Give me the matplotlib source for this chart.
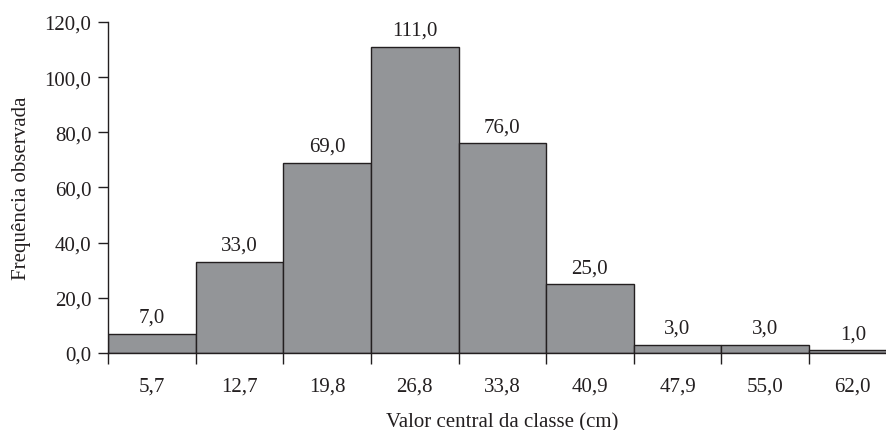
import matplotlib.pyplot as plt
import numpy as np

plt.rcParams['font.family'] = ['Liberation Serif', 'DejaVu Serif']

# class centers (cm) and observed frequencies
centers = ['5,7', '12,7', '19,8', '26,8', '33,8', '40,9', '47,9', '55,0', '62,0']
freqs = [7.0, 33.0, 69.0, 111.0, 76.0, 25.0, 3.0, 3.0, 1.0]
y_ticks = [0, 20, 40, 60, 80, 100, 120]


def comma(v):
    return f'{v:.1f}'.replace('.', ',')


fig = plt.figure(figsize=(8.87, 4.31), dpi=100)
# last bar runs past the right edge of the picture, as in the original
ax = fig.add_axes([0.1218, 0.1787, 0.889, 0.7679])

pos = np.arange(len(freqs))
bars = ax.bar(pos, freqs, width=1.0, color='#939598', edgecolor='#231f20',
              linewidth=1.0)
ax.bar_label(bars, labels=[comma(v) for v in freqs], padding=5, fontsize=15,
             color='#231f20')

ax.set_xlim(-0.5, len(freqs) - 0.5)
ax.set_ylim(0, 120)
ax.set_yticks(y_ticks)
ax.set_yticklabels([comma(v) for v in y_ticks], fontsize=15, color='#231f20')
ax.set_xticks(pos)
ax.set_xticklabels(centers, fontsize=15, color='#231f20')
ax.set_xticks(np.arange(len(freqs) + 1) - 0.5, minor=True)
ax.tick_params(axis='x', which='major', length=0, pad=17)
ax.tick_params(axis='x', which='minor', length=8, width=1, direction='out',
               color='#231f20')
ax.tick_params(axis='y', length=7, width=1, color='#231f20', pad=5)

for s in ['top', 'right']:
    ax.spines[s].set_visible(False)
for s in ['left', 'bottom']:
    ax.spines[s].set_color('#231f20')
    ax.spines[s].set_linewidth(1)

ax.set_xlabel('Valor central da classe (cm)', fontsize=15, color='#231f20',
              labelpad=12)
ax.set_ylabel('Frequência observada', fontsize=15, color='#231f20',
              labelpad=10)

fig.savefig('out.png', dpi=100)
